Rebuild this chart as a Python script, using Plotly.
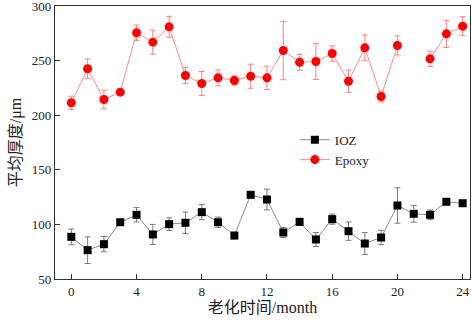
import plotly.graph_objects as go

months = list(range(0, 25))
ioz = [88.6, 76.4, 81.9, 102, 108.8, 90.8, 100.2, 101.5, 111.2, 102, 89.8, 127.1,
       122.8, 92.6, 102.3, 86.2, 104.8, 93.8, 82.5, 88, 117.3, 109.7, 108.8, 120.7, 119.4]
ioz_err = [7.2, 12.2, 7, 1, 6.6, 9.2, 5.8, 9.8, 6.9, 4.7, 3, 1.5,
           9.5, 4.6, 3.2, 6.4, 4.6, 8.4, 10, 6.6, 16.2, 7.6, 4.4, 2, 1]
epoxy = [211.4, 242.5, 214.4, 221.1, 275.5, 266.9, 280.9, 236.4, 229, 234.2, 231.8, 235.7,
         234.2, 259.2, 248.5, 249.2, 256.5, 231.1, 261.7, 217.1, 263.8, None, 251.6, 274.5, 281.5]
epoxy_err = [6, 9, 8.5, 1, 7, 11, 9.6, 7.5, 11, 7.3, 4.3, 11,
             10.7, 26.7, 7.3, 16.5, 7, 10.2, 11.8, 5, 8.7, None, 7, 12.4, 8.7]
x_ticks = [0, 4, 8, 12, 16, 20, 24]
y_ticks = [50, 100, 150, 200, 250, 300]

font_family = "Liberation Serif, Noto Sans CJK SC, serif"

fig = go.Figure()
fig.add_trace(go.Scatter(
    x=months, y=ioz, name="IOZ", mode="lines+markers",
    line=dict(color="#8c8c8c", width=1),
    marker=dict(symbol="square", color="black", size=8),
    error_y=dict(type="data", array=ioz_err, color="#7a7a7a", thickness=1, width=3),
))
fig.add_trace(go.Scatter(
    x=months, y=epoxy, name="Epoxy", mode="lines+markers", connectgaps=False,
    line=dict(color="#ff8a8a", width=1),
    marker=dict(symbol="circle", color="#ff0000", size=9),
    error_y=dict(type="data", array=epoxy_err, color="#ff8080", thickness=1, width=3),
))

axis_common = dict(
    showline=True, linecolor="#333333", linewidth=1.3, mirror=True,
    ticks="inside", ticklen=5, tickcolor="#333333", showgrid=False, zeroline=False,
    automargin=False, ticklabeloverflow="allow",
    tickfont=dict(family=font_family, size=13, color="#222"),
)
fig.update_xaxes(range=[-1, 24.45], tickvals=x_ticks,
                 title=dict(text="老化时间/month", font=dict(family=font_family, size=16, color="#222"), standoff=4),
                 **axis_common)
fig.update_yaxes(range=[50, 300], tickvals=y_ticks,
                 title=dict(text="平均厚度/μm", font=dict(family=font_family, size=16, color="#222"), standoff=6),
                 **axis_common)
fig.update_layout(
    width=472, height=321,
    margin=dict(l=55, r=2, t=6, b=42),
    plot_bgcolor="white", paper_bgcolor="white",
    legend=dict(x=0.578, y=0.565, xanchor="left", yanchor="top",
                font=dict(family=font_family, size=13, color="#222"),
                bgcolor="rgba(0,0,0,0)", itemwidth=30, tracegroupgap=0),
    showlegend=True,
)
fig.write_html("out.html", post_script="document.body.style.margin='0';",
               config={"displayModeBar": False})
